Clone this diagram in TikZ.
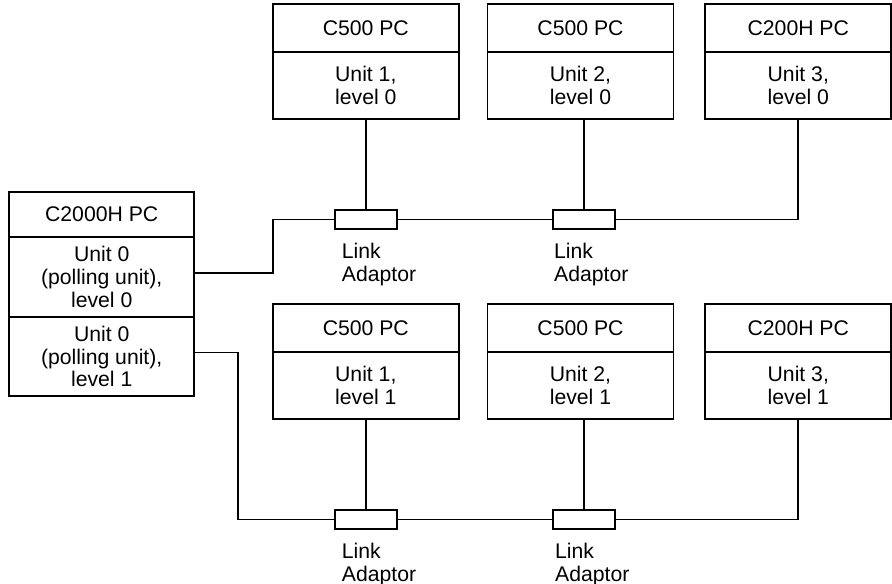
\documentclass[tikz,border=0pt]{standalone}
\usepackage{fontspec}
\setmainfont{Liberation Sans}
\begin{document}
\begin{tikzpicture}[x=1bp,y=-1bp,
  every node/.style={font=\fontsize{21.2bp}{22.8bp}\selectfont, inner sep=0pt, align=center},
  hdr/.style={draw, line width=1.8bp, minimum width=186bp, minimum height=48bp},
  bdy/.style={draw, line width=1.8bp, minimum width=186bp, minimum height=67bp},
  adapt/.style={draw, line width=1.8bp, fill=white, minimum width=62bp, minimum height=19bp},
  lbl/.style={anchor=north west, align=left},
  wire/.style={line width=1.8bp}]
\useasboundingbox (0,0) rectangle (892,584);

% top row (level 0)
\node[hdr] (h1) at (365.8,28) {C500 PC};
\node[bdy] (u1) at (365.8,85.5) {Unit 1,\\level 0};
\node[hdr] (h2) at (580.5,28) {C500 PC};
\node[bdy] (u2) at (580.5,85.5) {Unit 2,\\level 0};
\node[hdr] (h3) at (798.3,28) {C200H PC};
\node[bdy] (u3) at (798.3,85.5) {Unit 3,\\level 0};

% bottom row (level 1)
\node[hdr] (g1) at (365.8,328) {C500 PC};
\node[bdy] (v1) at (365.8,385.5) {Unit 1,\\level 1};
\node[hdr] (g2) at (580.5,328) {C500 PC};
\node[bdy] (v2) at (580.5,385.5) {Unit 2,\\level 1};
\node[hdr] (g3) at (798.3,328) {C200H PC};
\node[bdy] (v3) at (798.3,385.5) {Unit 3,\\level 1};

% C2000H
\node[hdr, minimum width=185.3bp, minimum height=45bp] (hc) at (101.7,214.2) {C2000H PC};
\node[bdy, minimum width=185.3bp, minimum height=80.3bp] (c0) at (101.7,276.85) {Unit 0\\(polling unit),\\level 0};
\node[bdy, minimum width=185.3bp, minimum height=79bp] (c1) at (101.7,356.5) {Unit 0\\(polling unit),\\level 1};

% adaptors
\node[adapt] (a1) at (366,219.5) {};
\node[adapt] (a2) at (583.6,219.5) {};
\node[adapt] (b1) at (366,519.5) {};
\node[adapt] (b2) at (583.8,519.5) {};

\coordinate (j1) at (273.3,219.5);
\coordinate (j2) at (238.3,519.5);

% wires level 0
\draw[wire] ([yshift=3.5bp]c0.east) -| (j1) -- (a1.west);
\draw[wire] (a1.east) -- (a2.west);
\draw[wire] (a2.east) -| (u3.south);
\draw[wire] (a1.north) -- (a1.north |- u1.south);
\draw[wire] (a2.north) -- (a2.north |- u2.south);

% wires level 1
\draw[wire] ([yshift=4bp]c1.east) -| (j2) -- (b1.west);
\draw[wire] (b1.east) -- (b2.west);
\draw[wire] (b2.east) -| (v3.south);
\draw[wire] (b1.north) -- (b1.north |- v1.south);
\draw[wire] (b2.north) -- (b2.north |- v2.south);

% labels
\node[lbl] (la1) at (341.7,242.7) {Link\\Adaptor};
\node[lbl] (la2) at (554,242.7) {Link\\Adaptor};
\node[lbl] (lb1) at (341.7,542.7) {Link\\Adaptor};
\node[lbl] (lb2) at (555,542.7) {Link\\Adaptor};
\end{tikzpicture}
\end{document}
